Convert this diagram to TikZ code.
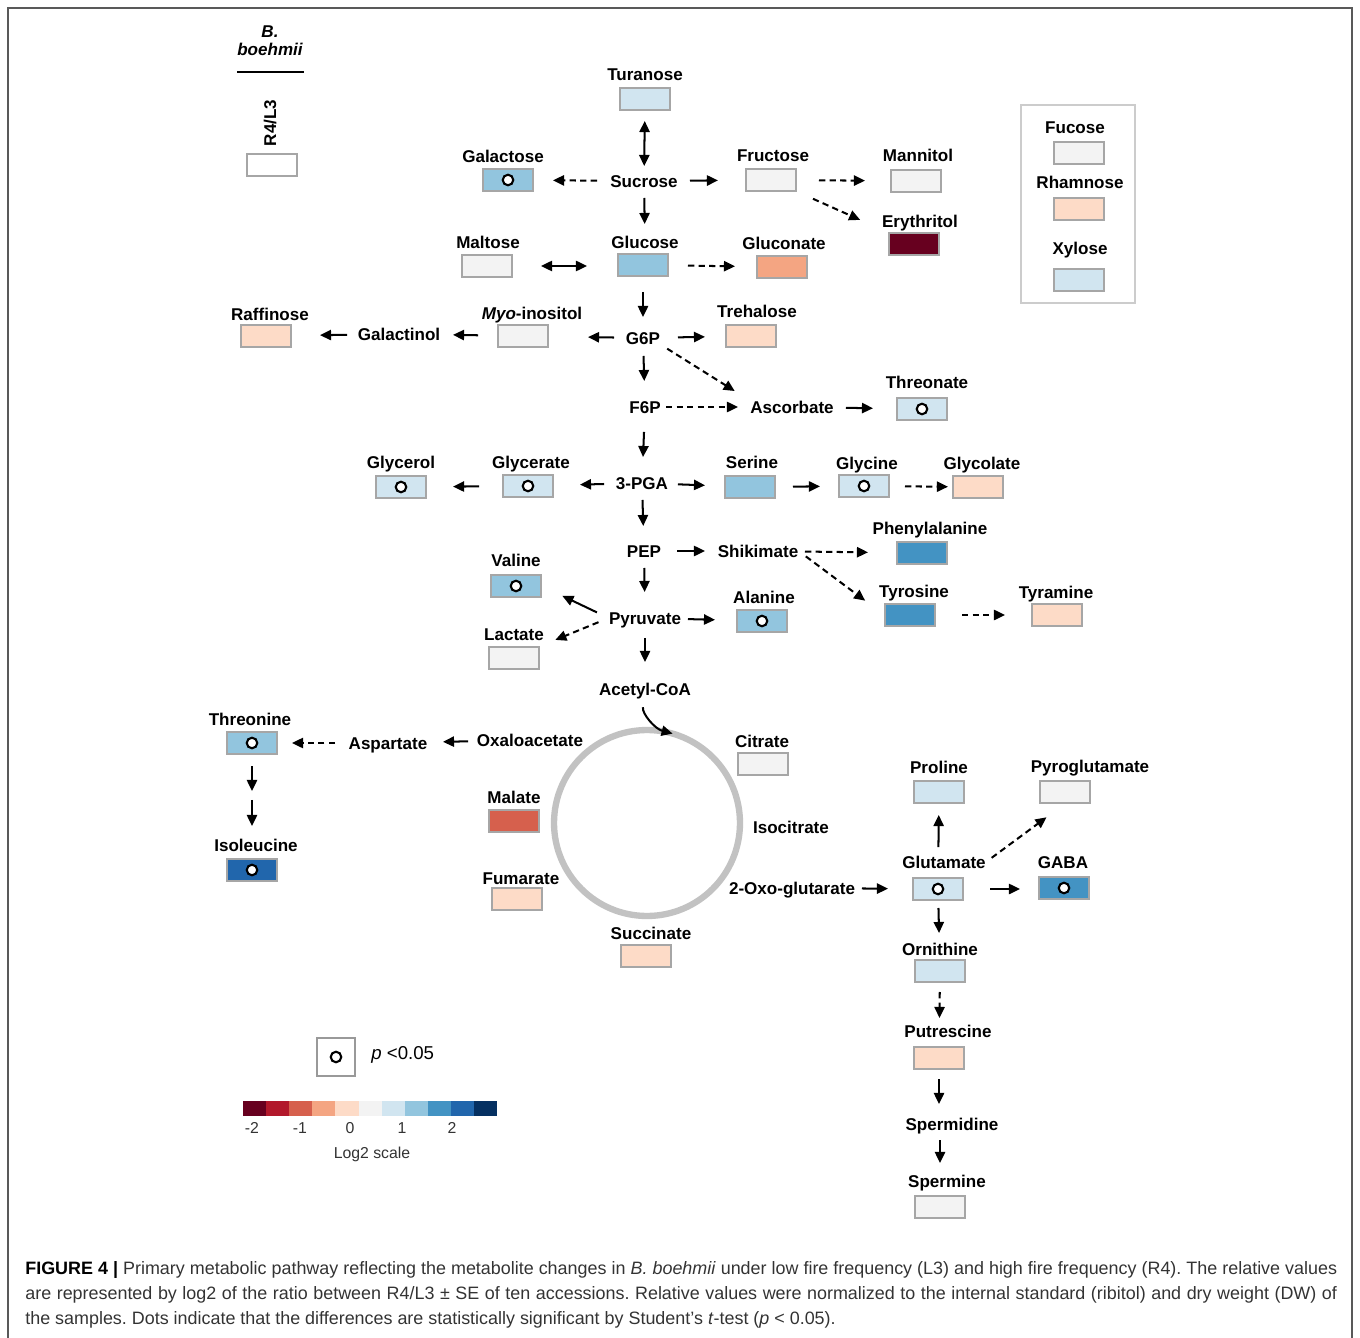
\documentclass[tikz,border=0pt]{standalone}
\usepackage{fontspec}
\setmainfont{Liberation Sans}
\usepackage{xcolor}
\usetikzlibrary{arrows.meta}

% log2 colour scale
\definecolor{r5}{HTML}{67001F}
\definecolor{r4}{HTML}{B2182B}
\definecolor{r3}{HTML}{D6604D}
\definecolor{r2}{HTML}{F4A582}
\definecolor{r1}{HTML}{FDDBC7}
\definecolor{c0}{HTML}{F3F3F3}
\definecolor{b1}{HTML}{D1E5F0}
\definecolor{b2}{HTML}{92C5DE}
\definecolor{b3}{HTML}{4393C3}
\definecolor{b4}{HTML}{2166AC}
\definecolor{b5}{HTML}{053061}

\tikzset{
  lbl/.style={inner sep=0pt, text height=6.9pt, text depth=0pt, font=\fontsize{9.7}{11.6}\selectfont\bfseries},
  mbox/.style={draw=black!35, line width=0.7pt, minimum width=1cm, minimum height=0.44cm, inner sep=0pt},
  sigdot/.style={circle, draw=black, fill=white, line width=1.2pt, minimum size=6pt, inner sep=0pt},
  arr/.style={line width=1.15pt, -{Triangle[length=6.3pt,width=5.8pt]}},
  darr/.style={line width=1.15pt, {Triangle[length=6.3pt,width=5.8pt]}-{Triangle[length=6.3pt,width=5.8pt]}},
  dsh/.style={arr, dash pattern=on 3.6pt off 2.4pt},
  ends/.style 2 args={shorten <=#1*0.5691pt, shorten >=#2*0.5691pt},
  tick/.style={inner sep=0pt, font=\fontsize{9}{10}\selectfont, text=black!80},
}

\begin{document}
\begin{tikzpicture}[x=0.02cm, y=-0.02cm]

  % Parameters
  \def\cbleft{243}
  \def\cbstep{23.1}
  \useasboundingbox (0,0) rectangle (1360,1338);
  \clip (0,0) rectangle (1360,1338);

  % frame
  \draw[black!65, line width=0.9pt] (8,8) rectangle (1352,1370);

  % species key
  \node[lbl, font=\fontsize{9.7}{10.3}\selectfont\bfseries\itshape, align=center, text height=, text depth=] (spec) at (270,41) {B.\\boehmii};
  \draw[line width=1.2pt] (237,72) -- (304,72);
  \node[lbl, rotate=90] (ratio) at (270,123) {R4/L3};
  \node[mbox, fill=white] (key) at (272,165) {};

  % legend frame
  \draw[black!20, line width=1.5pt] (1021,105) rectangle (1135,303);

  % metabolites with a box: name/label/label x/label y/box x/box y/colour
  \foreach \nm/\txt/\lx/\ly/\bx/\by/\col in {
      tur/Turanose/645/74/645/99/b1,
      gal/Galactose/503/156/508/180/b2,
      fru/Fructose/773/155/771/180/c0,
      man/Mannitol/918/155/916/181/c0,
      ery/Erythritol/920/221/914/244/r5,
      glc/Glucose/645/242/643/265/b2,
      mal/Maltose/488/242/487/266/c0,
      gln/Gluconate/784/243/782/267/r2,
      raf/Raffinose/270/314/266/336/r1,
      myo/{\textit{Myo}-inositol}/532/313/523/336/c0,
      tre/Trehalose/757/311/751/336/r1,
      thn/Threonate/927/382/922/409/b1,
      gla/Glycerate/531/462/528/486/b1,
      gol/Glycerol/401/462/401/487/b1,
      ser/Serine/752/462/750/487/b2,
      gly/Glycine/867/463/864/486/b1,
      glo/Glycolate/982/463/978/487/r1,
      phe/Phenylalanine/930/528/922/553/b3,
      tyr/Tyrosine/914/591/910/615/b3,
      tym/Tyramine/1056/592/1057/615/r1,
      val/Valine/516/560/516/586/b2,
      ala/Alanine/764/597/762/621/b2,
      lac/Lactate/514/634/514/658/c0,
      thr/Threonine/250/719/252/743/b2,
      ile/Isoleucine/256/845/252/870/b4,
      cit/Citrate/762/741/763/764/c0,
      mla/Malate/514/797/514/821/r3,
      fum/Fumarate/521/878/517/899/r1,
      sca/Succinate/651/933/646/956/r1,
      pro/Proline/939/767/939/792/b1,
      pyg/Pyroglutamate/1090/766/1065/792/c0,
      glu/Glutamate/944/862/938/889/b1,
      gab/GABA/1063/862/1064/888/b3,
      orn/Ornithine/940/949/940/971/b1,
      put/Putrescine/948/1031/939/1058/r1,
      spm/Spermine/947/1181/940/1207/c0,
      fuc/Fucose/1075/127/1079/153/c0,
      rha/Rhamnose/1080/182/1079/209/r1,
      xyl/Xylose/1080/248/1079/280/b1} {
    \node[lbl] (l\nm) at (\lx,\ly) {\txt};
    \node[mbox, fill=\col] (\nm) at (\bx,\by) {};
  }

  % significant changes
  \foreach \nm in {gal,thn,gla,gol,gly,val,ala,thr,ile,glu,gab}
    \node[sigdot] (\nm-p) at (\nm) {};

  % intermediates without data
  \foreach \nm/\txt/\x/\y in {
      suc/Sucrose/644/181, gct/Galactinol/399/334, g6p/G6P/643/338,
      f6p/F6P/645/407, asc/Ascorbate/792/407, pga/3-PGA/642/483,
      pep/PEP/644/551, shi/Shikimate/758/551, pyr/Pyruvate/645/618,
      aco/Acetyl-CoA/645/689, oaa/Oxaloacetate/530/740, asp/Aspartate/388/743,
      ict/Isocitrate/791/827, ogl/2-Oxo-glutarate/792/888, spd/Spermidine/952/1124}
    \node[lbl] (\nm) at (\x,\y) {\txt};

  % TCA cycle
  \node[circle, draw=black!24, line width=3.6pt, minimum size=3.72cm, outer sep=0pt, inner sep=0pt] (tca) at (647,823) {};
  \draw[arr, ends={12}{0}] (aco.south) to[out=-100, in=165] (tca.74);

  % sugars
  \draw[darr, ends={22}{15}] (tur.center) -- (suc.center);
  \draw[dsh, ends={47}{45}] (suc.center) -- (gal.center);
  \draw[arr, ends={46}{53}] (suc.center) -- (fru.center);
  \draw[arr, ends={17}{18}] (suc.center) -- (lglc.center);
  \draw[dsh, ends={48}{51}] (fru.center) -- (man.center);
  \draw[dsh, ends={46}{59}] (fru.center) -- (ery.center);
  \draw[darr, ends={54}{56}] (mal.center) -- (mal.center -| glc.center);
  \draw[dsh, ends={45}{47}] (glc.center) -- (gln.center);
  \draw[arr, ends={27}{21}] (glc.center) -- (g6p.center);
  \draw[arr, ends={29}{65}] (g6p.center) -- (myo.center);
  \draw[arr, ends={45}{54}] (myo.center) -- (gct.center);
  \draw[arr, ends={52}{54}] (gct.center) -- (raf.center);
  \draw[arr, ends={35}{46}] (g6p.center) -- (tre.center);
  \draw[dsh, ends={8}{18}] (g6p.south east) -- (asc.north west);
  \draw[arr, ends={18}{26}] (g6p.center) -- (f6p.center);
  \draw[dsh, ends={21}{54}] (f6p.center) -- (asc.center);
  \draw[arr, ends={54}{49}] (asc.center) -- (thn.center);

  % glycolysis and amino acids
  \draw[arr, ends={25}{26}] (f6p.center) -- (pga.center);
  \draw[arr, ends={38}{52}] (pga.center) -- (gla.center);
  \draw[arr, ends={49}{52}] (gla.center) -- (gol.center);
  \draw[arr, ends={36}{45}] (pga.center) -- (ser.center);
  \draw[arr, ends={43}{44}] (ser.center) -- (gly.center);
  \draw[dsh, ends={41}{30}] (gly.center) -- (glo.center);
  \draw[arr, ends={17}{25}] (pga.center) -- (pep.center);
  \draw[arr, ends={33}{53}] (pep.center) -- (shi.center);
  \draw[dsh, ends={47}{54}] (shi.center) -- (phe.center);
  \draw[dsh, ends={9}{24}] (shi.east) -- (tyr.west);
  \draw[dsh, ends={52}{52}] (tyr.center) -- (tym.center);
  \draw[arr, ends={17}{26}] (pep.center) -- (pyr.center);
  \draw[arr, ends={13}{23}] (pyr.west) -- (val.east);
  \draw[dsh, ends={11}{17}] (pyr.west) -- (lac.north east);
  \draw[arr, ends={43}{47}] (pyr.center) -- (ala.center);
  \draw[arr, ends={20}{27}] (pyr.center) -- (aco.center);

  % aspartate family
  \draw[arr, ends={62}{55}] (oaa.center) -- (asp.center);
  \draw[dsh, ends={53}{40}] (asp.center) -- (thr.center);
  \draw[arr, ends={23}{79}] (thr.center) -- (ile.center);
  \draw[arr, ends={57}{44}] (thr.center) -- (ile.center);

  % glutamate family
  \draw[arr, ends={70}{50}] (ogl.center) -- (glu.center);
  \draw[arr, ends={42}{23}] (glu.center) -- (pro.center);
  \draw[dsh, ends={7}{23}] (lglu.east) -- (pyg.south);
  \draw[arr, ends={52}{44}] (glu.center) -- (glu.center -| gab.center);
  \draw[arr, ends={19}{38}] (glu.center) -- (orn.center);
  \draw[dsh, ends={21}{40}] (orn.center) -- (put.center);
  \draw[arr, ends={21}{20}] (put.center) -- (put.center |- spd.center);
  \draw[arr, ends={16}{44}] (spm.center |- spd.center) -- (spm.center);

  % p value key
  \node[draw=black!40, line width=0.8pt, minimum size=0.76cm, inner sep=0pt] (pbox) at (336,1057) {};
  \node[sigdot] (pbox-p) at (pbox) {};
  \node[inner sep=0pt, font=\fontsize{10.6}{12}\selectfont, anchor=west] (ptxt) at (371,1055) {\textit{p} <0.05};

  % colour bar
  \foreach \c [count=\i from 0] in {r5,r4,r3,r2,r1,c0,b1,b2,b3,b4,b5}
    \fill[\c] (\cbleft+\i*\cbstep,1101) rectangle ++(\cbstep,15);
  \foreach \v/\x in {-2/252,-1/300,0/350,1/402,2/452}
    \node[tick] (tk\v) at (\x,1128) {\v};
  \node[tick] (cbar) at (372,1154) {Log2 scale};

  % caption
  \node[anchor=north west, inner sep=0pt, text width=26.24cm, align=justify, text=black!80,
        font=\fontsize{10.2}{14.2}\selectfont\frenchspacing] (cap) at (25,1261)
    {\tolerance 3000\relax
     \textbf{\color{black}FIGURE 4 |} Primary metabolic pathway reflecting the metabolite changes in \textit{B. boehmii} under low fire frequency (L3) and high fire frequency (R4). The relative values\linebreak
     are represented by log2 of the ratio between R4/L3 ± SE of ten accessions. Relative values were normalized to the internal standard (ribitol) and dry weight (DW) of\linebreak
     the samples. Dots indicate that the differences are statistically significant by Student’s \textit{t}-test (\textit{p} < 0.05).};

\end{tikzpicture}
\end{document}
